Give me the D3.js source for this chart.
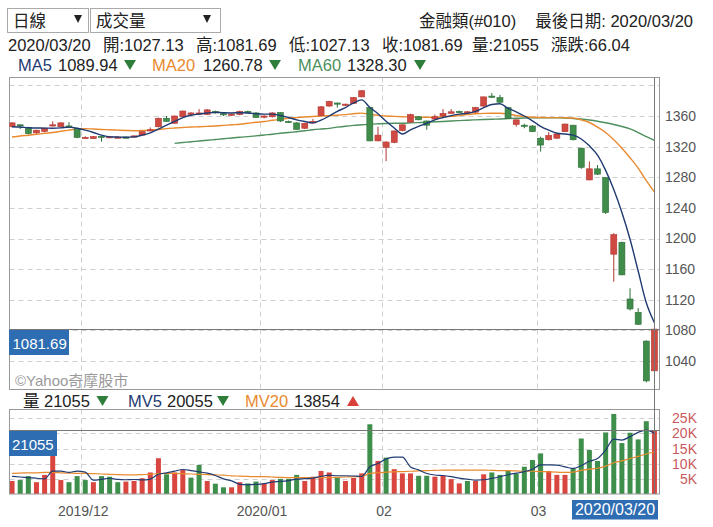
<!DOCTYPE html>
<html><head><meta charset="utf-8">
<script src="https://cdn.jsdelivr.net/npm/d3@7"></script>
<style>
body{margin:0;background:#fff;}
svg{display:block;font-family:"Liberation Sans","Noto Sans CJK TC",sans-serif;}
</style>
</head><body>
<svg id="c" width="713" height="527"></svg>
<script>
// ---------- data ----------
const opens  = [1346,1348.5,1345,1338,1340,1347.5,1346,1347,1344,1332,
                1330.5,1333.5,1332,1332,1332.5,1333,1335,1341,1346,1357,
                1350.5,1359,1362,1363.5,1362,1366,1363,1361,1362,1366,
                1364,1359,1359,1364.5,1353,1351,1344,1351,1360.5,1373,
                1377,1375,1376.5,1385,1371,1327.5,1319,1325.5,1341,1352,
                1359,1353.5,1356,1360,1363.5,1366,1364.5,1365,1373,1386,
                1384,1371,1349,1348,1347,1331,1329,1331,1339.5,1348,
                1318,1276.5,1291,1279.5,1179.5,1195,1121,1103.5,1066,1027.13];
const highs  = [1352,1349,1346,1342,1345,1353,1352,1352,1344.5,1333.5,
                1334,1334,1334,1333,1333,1335,1340,1345,1358,1360,
                1360.5,1367,1365,1369,1369,1367,1364,1363,1367,1367,
                1365,1361,1365,1365,1354,1352,1351,1356,1373,1380,
                1377.5,1376,1385,1394,1372,1346,1327,1341,1349,1363,
                1360,1354,1362,1369,1369,1367,1366.5,1372,1385,1390,
                1387.5,1372,1355.5,1350,1348,1333,1339,1338,1350,1348.5,
                1318.5,1300.5,1296,1280,1207,1196,1135,1109,1067,1081.69];
const lows   = [1345,1343,1336,1337,1339,1346,1345,1345,1331,1330.5,
                1330,1326.5,1331,1331,1331,1332,1334.5,1340,1345,1352.5,
                1350,1358.5,1361,1362,1361.5,1363,1360,1360,1361,1364,
                1357.5,1357,1358,1352,1351,1342,1343,1350,1360,1372,
                1371,1373,1376,1384.5,1327,1327,1301,1324.5,1340,1351,
                1354.5,1342,1355,1359,1363,1364,1364,1364,1372,1383.5,
                1377,1356.5,1346,1344,1339,1313.5,1328,1330,1339,1328,
                1291,1276,1283,1232,1143.5,1152,1106,1087,1012,1027.13];
const closes = [1351,1348,1337,1341.5,1344,1348.5,1351,1346,1332,1332,
                1333,1332.5,1333,1332.5,1331.5,1334,1339.5,1342,1357,1353,
                1360,1366.5,1364,1364,1368,1364,1362,1362.5,1366,1365,
                1358,1360,1364,1353.5,1352,1342.5,1350.5,1353,1372,1379,
                1376,1375.5,1384,1393,1327.5,1335,1326,1340.5,1348.5,1362,
                1355,1348,1359,1363.5,1365.5,1365,1365.5,1371,1385,1384.5,
                1378,1357,1355,1347.5,1339.5,1322,1334.5,1336.5,1349.5,1329,
                1293,1291,1284,1234,1205,1152.5,1108,1088,1014,1081.69];
const volumes = [4300,4600,5900,3900,6300,17000,4600,3900,5900,4600,
                 3900,5900,5700,3900,4100,4300,5200,7100,11800,6500,
                 7100,7900,5400,9600,4300,3400,2200,2200,3900,3500,
                 4100,3500,4600,5000,5000,6300,4300,5700,7600,7100,
                 5400,4300,5300,6800,23000,10900,12000,8200,6800,6800,
                 6000,6000,5700,6000,4900,3500,4300,4300,6500,7100,
                 6300,7600,6800,9000,11200,13400,7600,6300,6300,8500,
                 18300,14500,10900,20300,26400,16800,20200,18000,24000,21055];
// 1 = up day (red bar), 0 = down day (green bar)
const volUp = [1,0,0,1,1,1,1,0,0,0, 1,0,0,0,1,1,1,1,1,0,
               1,1,0,0,1,0,0,1,1,0, 0,1,1,0,0,0,1,1,1,1,
               0,1,1,1,0,1,0,1,1,1, 0,0,1,1,1,1,0,1,1,0,
               0,0,0,0,0,0,1,1,1,0, 0,0,0,0,0,0,0,0,0,1];
const ma5 = [1346,1345.6,1344.7,1344.3,1344.2,1344,1344.5,1345.5,1344,1341.5,
             1338.5,1335,1332.8,1332.5,1332.3,1332.8,1335,1338,1343,1348,
             1353,1358,1361,1362.5,1364,1364.8,1364.2,1364,1364.3,1364,
             1363,1362.5,1362.5,1360.7,1358,1355,1352.8,1351,1354.5,1360,
             1366,1371,1377,1381,1371.2,1363,1353.1,1344.4,1336.5,1342,
             1346.4,1350.5,1355,1358,1360.5,1362.5,1363.5,1366,1371,1375,
             1376,1370,1365.5,1360,1353.7,1346.5,1341.5,1337.5,1336.5,1335,
             1330,1321,1309,1289,1264,1234,1199,1157.5,1116,1089.94];
const ma20 = [1332.6,1333.9,1334.9,1336.1,1337.4,1338.5,1340,1341.5,1343,1343.5,
              1343,1342.4,1342,1341.5,1341.1,1340.8,1341.1,1341.7,1342.4,1343.5,
              1344.3,1345,1345.6,1346,1346.5,1347,1347.7,1348.5,1349.3,1350.5,
              1351.8,1352.8,1354.4,1355.7,1357,1357.9,1358.7,1359.3,1360,1360.5,
              1361,1361.8,1363,1363.8,1362.2,1361,1360,1359.5,1359,1358.6,
              1358.3,1358.3,1358.3,1359,1359.6,1360.7,1361.9,1362.9,1363.4,1363.5,
              1363.5,1362.6,1360.7,1359.3,1358.3,1358,1357.9,1357.9,1357.8,1357.4,
              1355,1351.5,1345.5,1338.5,1329,1318,1305.5,1292,1275.5,1260.78];
const ma60 = [null,null,null,null,null,null,null,null,null,null,
              null,null,null,null,null,null,null,null,null,null,
              1324.3,1325.4,1326.3,1327.4,1328.4,1329.3,1330.2,1331.3,1332.2,1333.1,
              1334.1,1335.2,1336.2,1337.4,1338.5,1339.5,1340.7,1342,1343,1343.9,
              1345.4,1346.7,1347.7,1348.5,1349.3,1349.8,1350.2,1350.5,1350.6,1351,
              1351.4,1351.9,1352.4,1352.9,1353.5,1354,1354.5,1355,1355.4,1355.8,
              1356.1,1356.6,1357,1357.4,1357.6,1357.8,1357.8,1357.6,1357.4,1356.7,
              1356,1354.8,1353.2,1351.2,1348.9,1346.3,1343.3,1338.4,1333.2,1328.3];
const mv5 = [5800,5600,5400,5200,5000,7540,7540,7140,7540,7200,
             4580,4840,5200,4800,4700,4780,4640,4920,6500,6980,
             7540,8080,7740,7300,6860,6120,4980,4340,3200,3040,
             3180,3440,3920,4140,4440,4880,5040,5260,5780,6200,
             6020,6020,5940,5780,8960,10060,11600,12180,12180,8940,
             7960,6760,6260,6100,5720,5220,4880,4600,4700,5140,
             5700,6360,6860,7360,8180,9600,9600,9500,8960,8420,
             9400,10780,11700,14500,18080,17780,18920,20340,21080,20055];
const mv20 = [6800,6900,7000,7000,7100,7100,7000,6900,6800,6800,
              6700,6600,6500,6400,6300,6300,6400,6500,6700,6800,
              6800,6700,6600,6500,6400,6300,6200,6000,5900,5800,
              5700,5700,5600,5500,5400,5400,5400,5400,5400,5400,
              5500,5600,5700,5800,6800,7000,7200,7300,7400,7500,
              7600,7700,7800,7900,7900,7900,7900,7900,7900,7800,
              7700,7700,7600,7500,7500,7400,7300,7200,7100,7200,
              7800,8200,8500,9200,10300,10900,11700,12400,13200,13854];
const monthTickIdx = [9,31,46,65];
const monthLabels  = ["2019/12","2020/01","02","03"];
const priceTicks   = [1040,1080,1120,1160,1200,1240,1280,1320,1360];
const priceGrid    = [1040,1080,1120,1160,1200,1240,1280,1320,1360,1400];
const volTicks     = [5000,10000,15000,20000,25000];
const volTickLabels= ["5K","10K","15K","20K","25K"];
const lastDate = "2020/03/20";

// ---------- setup ----------
const N = closes.length;
const svg = d3.select("#c");
const RED="#cf4a43", RED_D="#b0362f", GRN="#3f8c4b", GRN_D="#2e6e39";
const VRED="#d9463f", VGRN="#3e8f4b";
const C_MA5="#1f3b72", C_MA20="#e98a2f", C_MA60="#4d8f5d";
const BLUEBOX="#2f6db2";
const FS = 16.5;

const x = d3.scaleBand().domain(d3.range(N)).range([8,658.5]).paddingInner(0);
const cx = i => x(i) + x.bandwidth()/2;
const y = d3.scaleLinear().domain([1040,1360]).range([361,116]);
const yv = d3.scaleLinear().domain([0,25000]).range([494,418.2]);

const PL=9.5, PR=659.5, PT=77.5, PB=389.5, VT=409.5, VB=494;

// ---------- header ----------
function selectBox(x0,w,label,arrowX){
  svg.append("rect").attr("x",x0+0.5).attr("y",8.5).attr("width",w).attr("height",24)
    .attr("fill","#fff").attr("stroke","#aaa");
  svg.append("text").attr("x",x0+6).attr("y",26.5).attr("font-size",FS).attr("fill","#222").text(label);
  svg.append("path").attr("d",`M${arrowX},15 L${arrowX+8},15 L${arrowX+4},23 Z`).attr("fill","#222");
}
selectBox(7,81,"日線",74);
selectBox(90,130,"成交量",203);

svg.append("text").attr("x",419).attr("y",26.5).attr("font-size",FS).attr("fill","#222").text("金融類(#010)");
svg.append("text").attr("x",693).attr("y",26.5).attr("text-anchor","end").attr("font-size",FS).attr("fill","#222").text("最後日期: " + lastDate);

const line2 = [["2020/03/20",8],["開:1027.13",103],["高:1081.69",196],["低:1027.13",289],
               ["收:1081.69",382],["量:21055",472],["漲跌:66.04",551]];
line2.forEach(([t,px])=>svg.append("text").attr("x",px).attr("y",51).attr("font-size",FS).attr("fill","#222").text(t));

function tri(xc,yc,down,color){
  const w=6,h=5;
  const d = down ? `M${xc-w},${yc-h} L${xc+w},${yc-h} L${xc},${yc+h} Z`
                 : `M${xc-w},${yc+h} L${xc+w},${yc+h} L${xc},${yc-h} Z`;
  svg.append("path").attr("d",d).attr("fill",color);
}
const maLeg = [["MA5",18,C_MA5,"1089.94",58,130],["MA20",152,C_MA20,"1260.78",203,275],["MA60",298,C_MA60,"1328.30",347,420]];
maLeg.forEach(([n,px,c,v,vx,tx])=>{
  svg.append("text").attr("x",px).attr("y",71).attr("font-size",FS).attr("fill",c).text(n);
  svg.append("text").attr("x",vx).attr("y",71).attr("font-size",FS).attr("fill","#222").text(v);
  tri(tx,65,true,"#2e7d3a");
});

// ---------- main panel ----------
const gMain = svg.append("g");
gMain.selectAll("line.hg").data(priceGrid).join("line")
  .attr("x1",PL).attr("x2",PR).attr("y1",d=>Math.round(y(d))+0.5).attr("y2",d=>Math.round(y(d))+0.5)
  .attr("stroke","#cfcfcf").attr("stroke-dasharray","5,4");
gMain.selectAll("line.vg").data(monthTickIdx).join("line")
  .attr("x1",d=>Math.round(x(d))+0.5).attr("x2",d=>Math.round(x(d))+0.5).attr("y1",PT).attr("y2",PB)
  .attr("stroke","#cfcfcf").attr("stroke-dasharray","5,4");

svg.append("defs").append("clipPath").attr("id","clipM").append("rect")
  .attr("x",PL).attr("y",PT).attr("width",PR-PL).attr("height",PB-PT);
const gC = svg.append("g").attr("clip-path","url(#clipM)");

const lineGen = d3.line().defined(d=>d!=null).x((d,i)=>cx(i)).y(d=>y(d)).curve(d3.curveMonotoneX);
gC.append("path").datum(ma60).attr("d",lineGen).attr("fill","none").attr("stroke",C_MA60).attr("stroke-width",1.4);
gC.append("path").datum(ma20).attr("d",lineGen).attr("fill","none").attr("stroke",C_MA20).attr("stroke-width",1.4);

const idx = d3.range(N);
const up = i => closes[i] >= opens[i];
gC.selectAll("line.wick").data(idx).join("line")
  .attr("x1",i=>cx(i)).attr("x2",i=>cx(i)).attr("y1",i=>y(highs[i])).attr("y2",i=>y(lows[i]))
  .attr("stroke",i=>up(i)?RED_D:GRN_D).attr("stroke-width",1);
gC.selectAll("rect.body").data(idx).join("rect")
  .attr("x",i=>cx(i)-3).attr("width",6)
  .attr("y",i=>y(Math.max(opens[i],closes[i])))
  .attr("height",i=>Math.max(1.2,Math.abs(y(opens[i])-y(closes[i]))))
  .attr("fill",i=>up(i)?RED:GRN).attr("stroke",i=>up(i)?RED_D:GRN_D).attr("stroke-width",0.6);

gC.append("path").datum(ma5).attr("d",lineGen).attr("fill","none").attr("stroke",C_MA5).attr("stroke-width",1.4);

gMain.append("rect").attr("x",PL).attr("y",PT).attr("width",PR-PL).attr("height",PB-PT)
  .attr("fill","none").attr("stroke","#999");

// price axis
const ax = svg.append("g").attr("transform",`translate(662,0)`)
  .call(d3.axisRight(y).tickValues(priceTicks).tickSize(0).tickPadding(3).tickFormat(d3.format("d")));
ax.select(".domain").remove();
ax.selectAll("text").attr("font-size",14).attr("fill","#555").attr("font-family","Liberation Sans, sans-serif");

svg.append("text").attr("x",15).attr("y",386).attr("font-size",15).attr("fill","#9a9a9a").text("©Yahoo奇摩股市");

// ---------- volume legend ----------
svg.append("text").attr("x",23).attr("y",407).attr("font-size",FS).attr("fill","#222").text("量");
svg.append("text").attr("x",44).attr("y",407).attr("font-size",FS).attr("fill","#222").text("21055");
tri(102.5,401,true,"#2e7d3a");
svg.append("text").attr("x",128).attr("y",407).attr("font-size",FS).attr("fill",C_MA5).text("MV5");
svg.append("text").attr("x",167).attr("y",407).attr("font-size",FS).attr("fill","#222").text("20055");
tri(223,401,true,"#2e7d3a");
svg.append("text").attr("x",245).attr("y",407).attr("font-size",FS).attr("fill",C_MA20).text("MV20");
svg.append("text").attr("x",294).attr("y",407).attr("font-size",FS).attr("fill","#222").text("13854");
tri(353,401,false,"#d9403a");

// ---------- volume panel ----------
const gV = svg.append("g");
gV.selectAll("line.hg").data(volTicks).join("line")
  .attr("x1",PL).attr("x2",PR).attr("y1",d=>Math.round(yv(d))+0.5).attr("y2",d=>Math.round(yv(d))+0.5)
  .attr("stroke","#cfcfcf").attr("stroke-dasharray","5,4");
gV.selectAll("line.vg").data(monthTickIdx).join("line")
  .attr("x1",d=>Math.round(x(d))+0.5).attr("x2",d=>Math.round(x(d))+0.5).attr("y1",VT).attr("y2",VB)
  .attr("stroke","#cfcfcf").attr("stroke-dasharray","5,4");
gV.selectAll("rect.vol").data(idx).join("rect")
  .attr("x",i=>cx(i)-2.5).attr("width",5)
  .attr("y",i=>yv(volumes[i])).attr("height",i=>yv(0)-yv(volumes[i]))
  .attr("fill",i=>volUp[i]?VRED:VGRN);
const vline = d3.line().x((d,i)=>cx(i)).y(d=>yv(d)).curve(d3.curveMonotoneX);
gV.append("path").datum(mv20).attr("d",vline).attr("fill","none").attr("stroke",C_MA20).attr("stroke-width",1.2);
gV.append("path").datum(mv5).attr("d",vline).attr("fill","none").attr("stroke",C_MA5).attr("stroke-width",1.2);
gV.append("rect").attr("x",PL).attr("y",VT).attr("width",PR-PL).attr("height",VB-VT)
  .attr("fill","none").attr("stroke","#999");

svg.selectAll("text.vt").data(volTicks).join("text")
  .attr("x",697).attr("y",d=>yv(d)+5).attr("text-anchor","end")
  .attr("font-size",14).attr("fill","#c95a5e").text((d,i)=>volTickLabels[i]);

// x axis labels
svg.selectAll("text.xl").data(monthTickIdx).join("text")
  .attr("x",d=>x(d)+2).attr("y",516).attr("text-anchor","middle")
  .attr("font-size",14).attr("fill","#555").text((d,i)=>monthLabels[i]);

// ---------- crosshair ----------
const lx = Math.round(cx(N-1))+0.5;
svg.append("line").attr("x1",lx).attr("x2",lx).attr("y1",PT).attr("y2",VB).attr("stroke","#777");
const hy = Math.round(y(closes[N-1]))+0.5;
svg.append("line").attr("x1",PL).attr("x2",PR).attr("y1",hy).attr("y2",hy).attr("stroke","#777");
const vy = Math.round(yv(volumes[N-1]))+0.5;
svg.append("line").attr("x1",PL).attr("x2",PR).attr("y1",vy).attr("y2",vy).attr("stroke","#777");

svg.append("rect").attr("x",9).attr("y",hy+0.5).attr("width",60).attr("height",25).attr("fill",BLUEBOX);
svg.append("text").attr("x",12.5).attr("y",hy+19).attr("font-size",15).attr("fill","#fff").text(d3.format(".2f")(closes[N-1]));
svg.append("rect").attr("x",9).attr("y",vy+0.5).attr("width",48).attr("height",25).attr("fill",BLUEBOX);
svg.append("text").attr("x",12).attr("y",vy+19).attr("font-size",15).attr("fill","#fff").text(volumes[N-1]);
svg.append("rect").attr("x",572).attr("y",500).attr("width",86).attr("height",19.5).attr("fill",BLUEBOX);
svg.append("text").attr("x",615).attr("y",514.5).attr("text-anchor","middle").attr("font-size",16).attr("fill","#fff").text(lastDate);
</script>
</body></html>
